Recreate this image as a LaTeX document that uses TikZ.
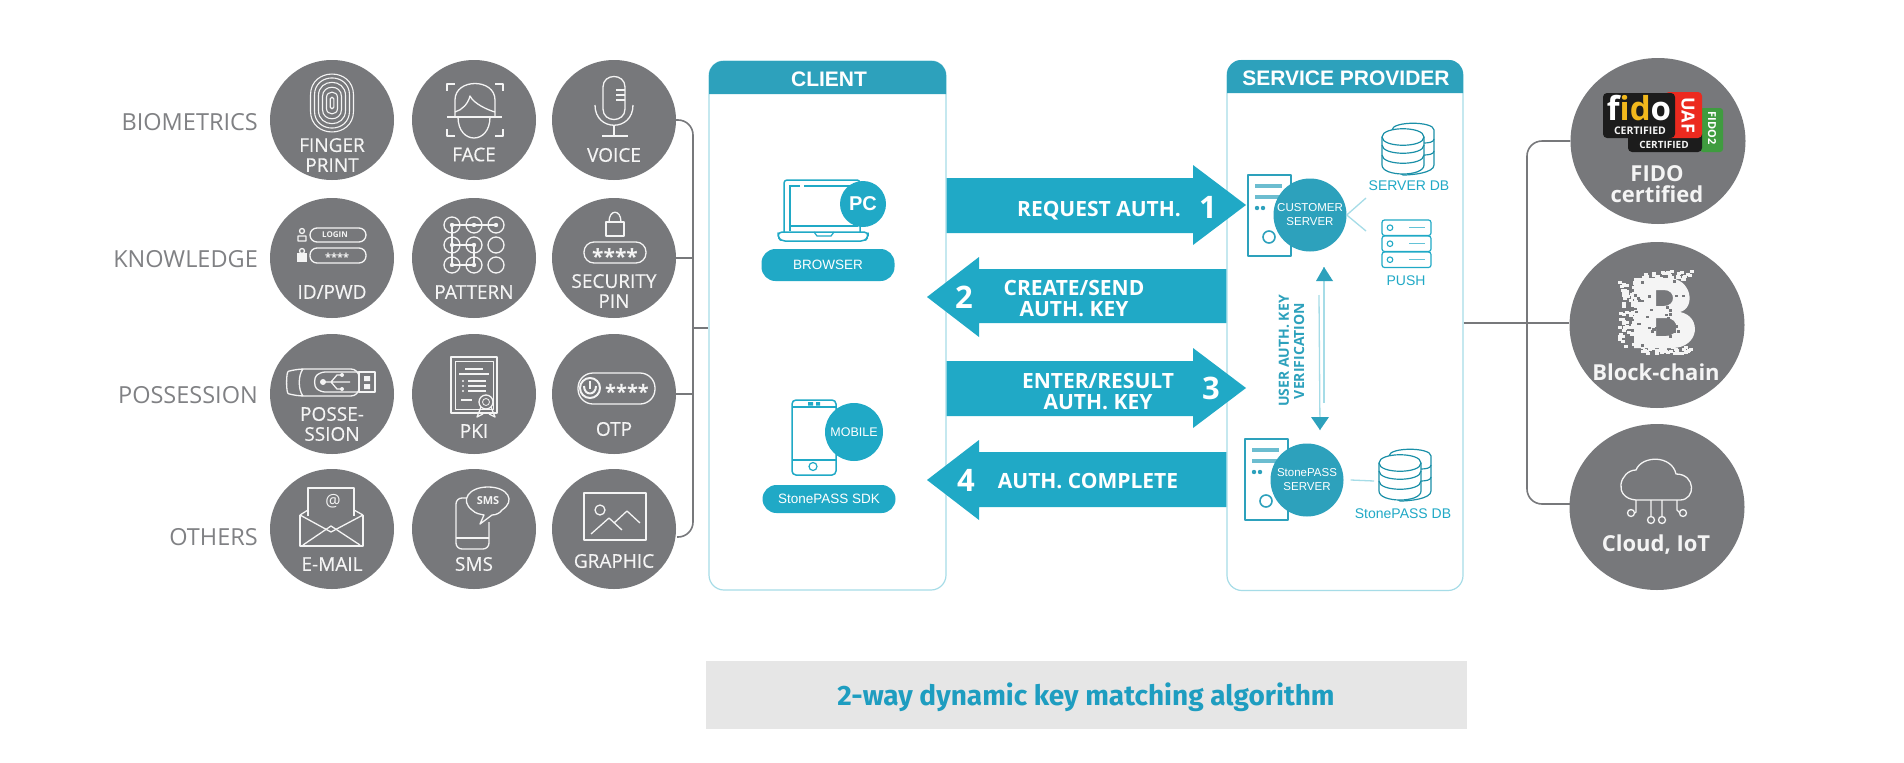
\documentclass[tikz,border=0pt]{standalone}
\usepackage{fontspec}
\setmainfont{Open Sans}
\newfontfamily\arialf{Liberation Sans}
\newfontfamily\barf{Fira Sans}
\newfontfamily\medf[FakeBold=0.35]{Open Sans}
\usetikzlibrary{shapes.geometric,calc}
\definecolor{ballgrey}{HTML}{77787B}
\definecolor{rowgrey}{HTML}{808184}
\definecolor{wiregrey}{HTML}{77787B}
\definecolor{teal}{HTML}{20A9C6}
\definecolor{hdrteal}{HTML}{2DA1BC}
\definecolor{lightteal}{HTML}{A6DCE7}
\definecolor{bargrey}{HTML}{E6E6E6}
\definecolor{bartext}{HTML}{1E9DC0}
\definecolor{offwhite}{HTML}{F4F4F4}
\definecolor{fidored}{HTML}{EC2A1F}
\definecolor{fidogreen}{HTML}{3F9C3F}
\definecolor{fidoblack}{HTML}{1C1C1C}
\definecolor{fidoyellow}{HTML}{F2B81C}
\newcommand\fsz[1]{\fontsize{#1}{#1}\selectfont}
\tikzset{
  ball/.style={ellipse,fill=ballgrey,inner sep=0pt,minimum width=124pt,minimum height=120pt},
  bigball/.style={ellipse,fill=ballgrey,inner sep=0pt,minimum width=175pt,minimum height=166pt},
  rowlabel/.style={anchor=east,inner sep=0pt,text=rowgrey,font=\fsz{23.5}},
  balltext/.style={inner sep=0pt,align=center,text=offwhite,font=\medf\fontsize{19}{20}\selectfont},
  bigtext/.style={inner sep=0pt,align=center,text=offwhite,font=\bfseries\fontsize{22}{21}\selectfont},
  wire/.style={draw=wiregrey,line width=1.6pt},
  icon/.style={draw=offwhite,line width=1.3pt,fill=none,line join=round},
  panel/.style={draw=lightteal,line width=1.2pt,fill=white,rounded corners=15pt,inner sep=0pt},
  hdrtext/.style={inner sep=0pt,text=white,font=\arialf\bfseries\fsz{21}},
  bigarrow/.style={fill=teal},
  arrowtext/.style={inner sep=0pt,align=center,text=white,font=\bfseries\fontsize{21}{21}\selectfont},
  numtext/.style={inner sep=0pt,text=white,font=\bfseries\fsz{31}},
  tealicon/.style={draw=teal,line width=1.5pt,fill=white,line join=round},
  srvicon/.style={draw=hdrteal,line width=1.5pt,fill=white,line join=round},
  srvbar/.style={draw=hdrteal!70,line width=3.2pt},
  badge/.style={circle,fill=teal,inner sep=0pt,text=white},
  srvball/.style={circle,fill=hdrteal,inner sep=0pt,minimum size=73pt,align=center,text=white,font=\arialf\fontsize{11.5}{14}\selectfont},
  pill/.style={rounded corners=14pt,fill=teal,inner sep=0pt,minimum width=133pt,text=white,font=\arialf\fsz{13.5}},
  dblabel/.style={inner sep=0pt,text=teal,font=\arialf\fsz{14}},
  lightline/.style={draw=lightteal,line width=1.3pt},
  vtext/.style={inner sep=0pt,rotate=90,text=hdrteal,font=\bfseries\fsz{14}}
}
\newcommand\dbicon[2]{%
 \begin{scope}[shift={(#1,#2)}]
  \draw[srvicon,draw=teal!85!black,line width=1.2pt] (10,7) .. controls (10,-2) and (52,-2) .. (52,7) -- (52,42) .. controls (52,50) and (30,52) .. (21,52) -- (10,44) -- cycle;
  \draw[teal!85!black,line width=1.2pt] (42,20) .. controls (47,20) and (52,19) .. (52,16);
  \draw[teal!85!black,line width=1.2pt] (42,32) .. controls (47,32) and (52,31) .. (52,28);
  \draw[srvicon,draw=teal!85!black,line width=1.2pt] (0,14) .. controls (0,3) and (42,3) .. (42,14) -- (42,42) .. controls (42,54) and (0,54) .. (0,42) -- cycle;
  \draw[teal!85!black,line width=1.2pt] (0,14) .. controls (0,25) and (42,25) .. (42,14);
  \draw[teal!85!black,line width=1.2pt] (0,22) .. controls (0,33) and (42,33) .. (42,22);
  \draw[teal!85!black,line width=1.2pt] (0,32) .. controls (0,43) and (42,43) .. (42,32);
 \end{scope}}
\newcommand\towericon[2]{%
 \begin{scope}[shift={(#1,#2)}]
  \draw[srvicon] (0,0) rectangle (43,81);
  \draw[srvbar] (7,11) -- (34,11);
  \draw[srvbar] (7,22) -- (34,22);
  \fill[hdrteal] (9,33) circle[radius=2.2];
  \fill[hdrteal] (15,33) circle[radius=2.2];
  \draw[hdrteal,line width=1.6pt] (21,62) circle[radius=6];
 \end{scope}}
\begin{document}
\begin{tikzpicture}[x=1pt,y=-1pt]
\useasboundingbox (0,0) rectangle (1904,763);
\fill[white] (0,0) rectangle (1904,763);

% ---- bus coordinates
\coordinate (busL) at (693,328);
\coordinate (busR) at (1527,323);
\coordinate (grj) at (677,537);
\coordinate (clj) at (1570,504);

% ---- left circles
\node[ball] (fp) at (332,120) {};
\node[ball] (fa) at (474,120) {};
\node[ball] (vo) at (614,120) {};
\node[ball] (id) at (332,258) {};
\node[ball] (pa) at (474,258) {};
\node[ball] (se) at (614,258) {};
\node[ball] (po) at (332,394) {};
\node[ball] (pk) at (474,394) {};
\node[ball] (ot) at (614,394) {};
\node[ball] (em) at (332,529) {};
\node[ball] (sm) at (474,529) {};
\node[ball] (gr) at (614,529) {};

% ---- wires left
\draw[wire,rounded corners=15pt] (vo.east) -| (busL) |- (grj);
\draw[wire] (se.east) -- (se.east -| busL);
\draw[wire] (ot.east) -- (ot.east -| busL);

% ---- row labels
\node[rowlabel] (lb1) at (258,122.5) {BIOMETRICS};
\node[rowlabel] (lb2) at (258,259.5) {KNOWLEDGE};
\node[rowlabel] (lb3) at (258,395) {POSSESSION};
\node[rowlabel] (lb4) at (258,537.5) {OTHERS};

% ---- ball texts
\node[balltext] (t1) at (332,155) {FINGER\\PRINT};
\node[balltext] (t2) at (474,154.5) {FACE};
\node[balltext] (t3) at (614,155) {VOICE};
\node[balltext] (t4) at (332,292) {ID/PWD};
\node[balltext] (t5) at (474,292) {PATTERN};
\node[balltext] (t6) at (614,291) {SECURITY\\PIN};
\node[balltext] (t7) at (332,424) {POSSE-\\SSION};
\node[balltext] (t8) at (474,431) {PKI};
\node[balltext] (t9) at (614,429) {OTP};
\node[balltext] (t10) at (332,564) {E-MAIL};
\node[balltext] (t11) at (474,564) {SMS};
\node[balltext] (t12) at (614,561) {GRAPHIC};

% ---- fingerprint
\foreach \w/\h in {21.5/29.5,17.5/25.5,13.5/21,9.5/16,5.5/11,1.8/6}{
  \draw[icon,line width=1.1pt] (332-\w,103-\h+\w) .. controls (332-\w,103-\h-\w*0.3) and (332+\w,103-\h-\w*0.3) .. (332+\w,103-\h+\w) -- (332+\w,103+\h-\w) .. controls (332+\w,103+\h+\w*0.3) and (332-\w,103+\h+\w*0.3) .. (332-\w,103+\h-\w) -- cycle;
}
% ---- face
\draw[icon] (447,91) -- (447,84) -- (455,84);
\draw[icon] (495,84) -- (503,84) -- (503,91);
\draw[icon] (447,129) -- (447,136) -- (455,136);
\draw[icon] (495,136) -- (503,136) -- (503,129);
\draw[icon] (455,117) -- (455,100) .. controls (455,78) and (495,78) .. (495,100) -- (495,117);
\draw[icon] (455,112) .. controls (462,110) and (468,104) .. (470,96) .. controls (474,104) and (488,110) .. (495,112);
\draw[icon] (458,117) .. controls (458,145) and (490,145) .. (490,117);
\draw[icon,line width=1.8pt] (447,117) -- (502,117);
% ---- voice
\draw[icon] (603,87) .. controls (603,73) and (625,73) .. (625,87) -- (625,109) .. controls (625,123) and (603,123) .. (603,109) -- cycle;
\draw[icon] (616,90) -- (625,90) (616,95) -- (625,95) (616,100) -- (625,100);
\draw[icon] (595,105) .. controls (595,132) and (633,132) .. (633,105);
\draw[icon] (614,125) -- (614,136) (602,136) -- (628,136);
% ---- id/pwd
\draw[icon,rounded corners=7pt] (310,228) rectangle (366,242);
\draw[icon,rounded corners=7pt] (310,248) rectangle (366,263);
\node[inner sep=0pt,text=offwhite,font=\bfseries\fsz{8}] (lg) at (335,235) {LOGIN};
\node[inner sep=0pt,text=offwhite,font=\bfseries\fsz{11}] (st) at (337,257) {****};
\draw[icon] (302,231) circle[radius=2.5] (298,241) rectangle (306,236);
\draw[icon] (302,251) circle[radius=2.5];
\fill[offwhite] (297,253) rectangle (307,262);
% ---- pattern
\foreach \x in {452,474,496}{\foreach \y in {225,245,265}{\draw[icon] (\x,\y) circle[radius=8];}}
\draw[icon] (452,225) -- (496,225) (452,225) -- (452,265) -- (474,265) -- (474,245) -- (452,245);
\foreach \x/\y in {452/225,474/225,496/225,452/245,474/245,452/265,474/265}{\fill[offwhite] (\x,\y) circle[radius=2.2];}
% ---- security pin
\draw[icon] (606,222) rectangle (624,236);
\draw[icon] (609,222) .. controls (609,209) and (621,209) .. (621,222);
\draw[icon,rounded corners=10pt] (584,242) rectangle (646,263);
\node[inner sep=0pt,text=offwhite,font=\bfseries\fsz{21}] (st2) at (615,257) {****};
% ---- usb
\draw[icon,rounded corners=8pt] (359,369) -- (296,369) .. controls (286,372) and (286,393) .. (296,396) -- (359,396) -- cycle;
\draw[icon] (359,372) rectangle (375,392);
\draw[icon] (303,369) .. controls (298,375) and (298,390) .. (303,396);
\draw[icon,rounded corners=5pt] (359,372) -- (320,372) .. controls (314,378) and (314,386) .. (320,392) -- (359,392);
\fill[offwhite] (364,376) rectangle (370,381) (364,384) rectangle (370,389);
\draw[icon] (323,382) -- (350,382) (331,382) -- (337,375) -- (342,375) (331,382) -- (337,389) -- (342,389);
\fill[offwhite] (323,382) circle[radius=3] (342,375) circle[radius=2] (342,389) circle[radius=2];
% ---- pki
\draw[icon] (451,357) rectangle (497,413);
\draw[icon,line width=0.8pt] (455,361) rectangle (493,409);
\draw[icon] (465,369) -- (483,369) (459,374) -- (489,374) (468,381) -- (486,381) (468,386) -- (486,386) (468,391) -- (486,391) (461,400) -- (472,400);
\fill[offwhite] (463,381) circle[radius=1.2] (463,386) circle[radius=1.2] (463,391) circle[radius=1.2];
\draw[icon,fill=ballgrey] (486,402) circle[radius=7];
\draw[icon,line width=0.8pt] (486,402) circle[radius=3.5];
\draw[icon] (481,407) -- (477,417) -- (483,414) (491,407) -- (495,417) -- (489,414);
% ---- otp
\draw[icon,rounded corners=15pt] (578,373) rectangle (655,404);
\draw[icon,line width=2pt] (590,388) circle[radius=10];
\draw[icon,line width=2pt] (584,386) .. controls (584,396) and (596,396) .. (596,386);
\draw[icon,line width=2pt] (590,381) -- (590,389);
\node[inner sep=0pt,text=offwhite,font=\bfseries\fsz{20}] (st3) at (627,392) {****};
% ---- email
\draw[icon] (308,516) -- (308,488) -- (354,488) -- (354,516);
\draw[icon] (300,515) -- (300,546) -- (363,546) -- (363,515);
\draw[icon] (300,515) -- (308,510) (363,515) -- (354,510);
\draw[icon] (300,515) -- (331,532) -- (363,515);
\draw[icon] (303,545) -- (331,526) -- (360,545);
\node[inner sep=0pt,text=offwhite,font=\fsz{17}] (at) at (333,501) {@};
% ---- sms
\draw[icon,rounded corners=6pt] (470,498) -- (456,498) -- (456,549) -- (489,549) -- (489,522);
\draw[icon] (456,538) -- (489,538);
\draw[icon,fill=ballgrey] (502,510) .. controls (516,501) and (508,487) .. (488,487) .. controls (468,487) and (460,501) .. (472,510) .. controls (476,514) and (480,514) .. (484,515) -- (480,524) -- (492,515) .. controls (496,515) and (500,513) .. (502,510) -- cycle;
\node[inner sep=0pt,text=offwhite,font=\bfseries\fsz{11}] (smst) at (488,501) {SMS};
% ---- graphic
\draw[icon] (584,493) rectangle (646,540);
\draw[icon] (600,510) circle[radius=5];
\draw[icon] (591,534) -- (609,518) -- (622,530) (614,523) -- (627,511) -- (640,523);

% ---- panels
\node[panel,minimum width=237pt,minimum height=529pt] (client) at (827.5,325.5) {};
\node[panel,minimum width=236pt,minimum height=530pt] (prov) at (1345,325.5) {};
\fill[hdrteal] (709,94) [rounded corners=14pt] -- (709,61) -- (946,61) [sharp corners] -- (946,94) -- cycle;
\fill[hdrteal] (1227,93) [rounded corners=14pt] -- (1227,60) -- (1463,60) [sharp corners] -- (1463,93) -- cycle;
\node[hdrtext] (ch) at (829,79) {CLIENT};
\node[hdrtext] (ph) at (1346,78) {SERVICE PROVIDER};

% ---- right wires
\node[bigball] (fi) at (1658,141) {};
\node[bigball] (bl) at (1657,325) {};
\node[bigball] (cl) at (1657,507) {};
\draw[wire,rounded corners=15pt] (fi.west) -| (busR) |- (clj);
\draw[wire] (busR -| prov.east) -- (busR -| bl.west);
\draw[wire] (busL) -- (busL -| client.west);

% ---- big arrows
\fill[bigarrow] (client.east |- 0,178) -- (1193,178) -- (1193,165) -- (1246,205) -- (1193,245) -- (1193,233) -- (client.east |- 0,233) -- cycle;
\fill[bigarrow] (prov.west |- 0,269) -- (979,269) -- (979,257) -- (927,297) -- (979,337) -- (979,323) -- (prov.west |- 0,323) -- cycle;
\fill[bigarrow] (client.east |- 0,361) -- (1193,361) -- (1193,348) -- (1246,388) -- (1193,428) -- (1193,416) -- (client.east |- 0,416) -- cycle;
\fill[bigarrow] (prov.west |- 0,452) -- (979,452) -- (979,440) -- (927,480) -- (979,520) -- (979,507) -- (prov.west |- 0,507) -- cycle;
\node[arrowtext] (a1) at (1099,211) {REQUEST AUTH.};
\node[numtext] (n1) at (1208,207) {1};
\node[arrowtext] (a2) at (1074,298.5) {CREATE/SEND\\AUTH. KEY};
\node[numtext] (n2) at (964,297) {2};
\node[arrowtext] (a3) at (1098,391.5) {ENTER/RESULT\\AUTH. KEY};
\node[numtext] (n3) at (1211,388) {3};
\node[arrowtext] (a4) at (1088,481.5) {AUTH. COMPLETE};
\node[numtext] (n4) at (966,480) {4};

% ---- laptop
\draw[tealicon,rounded corners=3pt] (784,232) -- (784,180) -- (860,180) -- (860,232);
\draw[teal,line width=1.4pt] (790,231) -- (790,186) -- (800,186) (804,186) -- (858,186);
\draw[teal,line width=1.4pt] (790,226) -- (858,226);
\draw[tealicon,rounded corners=4pt] (778,232) -- (868,232) -- (868,237) -- (865,241) -- (781,241) -- (778,237) -- cycle;
\draw[teal,line width=1.2pt] (814,232) -- (817,236) -- (831,236) -- (834,232);
\node[badge,minimum size=46pt,font=\arialf\bfseries\fsz{20}] (pc) at (863,204) {PC};
\node[pill,minimum height=32pt] (bw) at (828,265) {BROWSER};
% ---- phone
\draw[tealicon,rounded corners=4pt] (792,400) rectangle (836,475);
\draw[teal,line width=1.4pt] (792,407) -- (836,407) (792,460) -- (836,460);
\draw[teal,line width=1.2pt] (813,466.5) circle[radius=4];
\fill[teal] (808,402) rectangle (813,405.5) (816,402) rectangle (820,405.5);
\node[badge,minimum size=58pt,font=\arialf\fsz{12.5}] (mb) at (854,432) {MOBILE};
\node[pill,minimum height=28pt] (sd) at (829,499) {StonePASS SDK};

% ---- customer server
\towericon{1248}{175}
\node[srvball] (cs) at (1310,215) {CUSTOMER\\SERVER};
\coordinate (c1) at (1366,198);
\coordinate (c2) at (1366,231);
\draw[lightline] (c1) -- (cs.east) -- (c2);
\dbicon{1382}{123}
\node[dblabel] (d1) at (1409,186) {SERVER DB};
% ---- push
\foreach \y in {220,236,252}{
  \draw[srvicon,draw=teal,line width=1.2pt,rounded corners=2.5pt] (1382,\y) rectangle (1431,\y+15.5);
  \draw[teal,line width=1.1pt] (1390,\y+7.7) circle[radius=2.8];
  \draw[teal!70,line width=1pt] (1409,\y+7.7) -- (1425,\y+7.7);
}
\node[dblabel] (d2) at (1406,281) {PUSH};
% ---- stonepass server
\towericon{1245}{439}
\node[srvball] (ss) at (1307,480) {StonePASS\\SERVER};
\dbicon{1379}{449}
\coordinate (dbs) at (1374,481);
\draw[lightline] (ss.east) ++(7,0) -- (dbs);
\node[dblabel] (d3) at (1403,514) {StonePASS DB};
% ---- verification arrows
\coordinate (vu) at (1324,267);
\coordinate (vd) at (1320,430);
\draw[lightline] (vu) -- (1324,403);
\draw[lightline] (vd) -- (1319,295);
\fill[hdrteal] (vu) -- (1333,281) -- (1316,281) -- cycle;
\fill[hdrteal] (vd) -- (1329,417) -- (1311,417) -- cycle;
\node[vtext] (v1) at (1284,351) {USER AUTH. KEY};
\node[vtext] (v2) at (1299,351) {VERIFICATION};

% ---- fido badge
\fill[fidogreen] (1700,108) [rounded corners=3pt] -- (1723,108) -- (1723,152) -- (1700,152) -- cycle;
\fill[fidoblack,rounded corners=4pt] (1628,130) rectangle (1702,152);
\fill[fidored,rounded corners=4pt] (1665,92) rectangle (1702,138);
\fill[fidoblack,rounded corners=4pt] (1603,93) rectangle (1675,138);
\node[inner sep=0pt,font=\bfseries\fsz{33},text=white] (fd) at (1639,108) {f\textcolor{fidoyellow}{id}o};
\node[inner sep=0pt,font=\bfseries\fsz{10.5},text=offwhite] (ce1) at (1640,131) {CERTIFIED};
\node[inner sep=0pt,font=\bfseries\fsz{10},text=offwhite] (ce2) at (1664,145) {CERTIFIED};
\node[inner sep=0pt,font=\bfseries\fsz{18},text=white,rotate=-90] (ua) at (1688,115) {UAF};
\node[inner sep=0pt,font=\bfseries\fsz{11},text=white,rotate=-90] (f2) at (1712,128) {FIDO2};
\node[bigtext] (bt1) at (1657,184.5) {FIDO\\certified};
% ---- bitcoin
\fill[offwhite,even odd rule] (1634,278) -- (1668,278) .. controls (1692,278) and (1696,308) .. (1680,312) .. controls (1702,316) and (1700,348) .. (1672,348) -- (1634,348) -- cycle
 (1656,290) -- (1656,306) -- (1664,306) .. controls (1676,306) and (1676,290) .. (1664,290) -- cycle
 (1656,318) -- (1656,336) -- (1666,336) .. controls (1680,336) and (1680,318) .. (1666,318) -- cycle;
\pgfmathsetseed{11}
\foreach \i in {1,...,85}{
  \pgfmathsetmacro\bx{1618+22*rnd}
  \pgfmathsetmacro\by{280+66*rnd}
  \fill[offwhite] (\bx,\by) rectangle ++(4,3);
}
\foreach \i in {1,...,30}{
  \pgfmathsetmacro\bx{1640+50*rnd}
  \pgfmathsetmacro\by{270+8*rnd}
  \fill[offwhite] (\bx,\by) rectangle ++(4,3);
}
\foreach \i in {1,...,30}{
  \pgfmathsetmacro\bx{1640+50*rnd}
  \pgfmathsetmacro\by{346+7*rnd}
  \fill[offwhite] (\bx,\by) rectangle ++(4,3);
}
\foreach \i in {1,...,36}{
  \pgfmathsetmacro\bx{1634+62*rnd}
  \pgfmathsetmacro\by{280+66*rnd}
  \fill[ballgrey] (\bx,\by) rectangle ++(3,2.5);
}
\node[bigtext] (bt2) at (1656,372) {Block-chain};
% ---- cloud
\draw[icon] (1636,500) .. controls (1612,498) and (1620,470) .. (1636,470) .. controls (1642,455) and (1672,455) .. (1676,474) .. controls (1696,474) and (1696,500) .. (1680,500) -- cycle;
\draw[icon] (1636,500) -- (1636,512) -- (1635,513);
\draw[icon] (1651,500) -- (1651,516) (1662,500) -- (1662,516) (1677,500) -- (1677,510) -- (1680,513);
\draw[icon] (1631,513) circle[radius=3.5] (1651,520) circle[radius=3.5] (1662,520) circle[radius=3.5] (1683,513) circle[radius=3.5];
\node[bigtext] (bt3) at (1656,545) {Cloud, IoT};

% ---- bottom bar
\node[fill=bargrey,minimum width=761pt,minimum height=68pt,inner sep=0pt] (bar) at (1086,695) {};
\node[inner sep=0pt,text=bartext,font=\barf\bfseries\fsz{28}] (bt) at (1086,697) {2-way dynamic key matching algorithm};
\end{tikzpicture}
\end{document}
